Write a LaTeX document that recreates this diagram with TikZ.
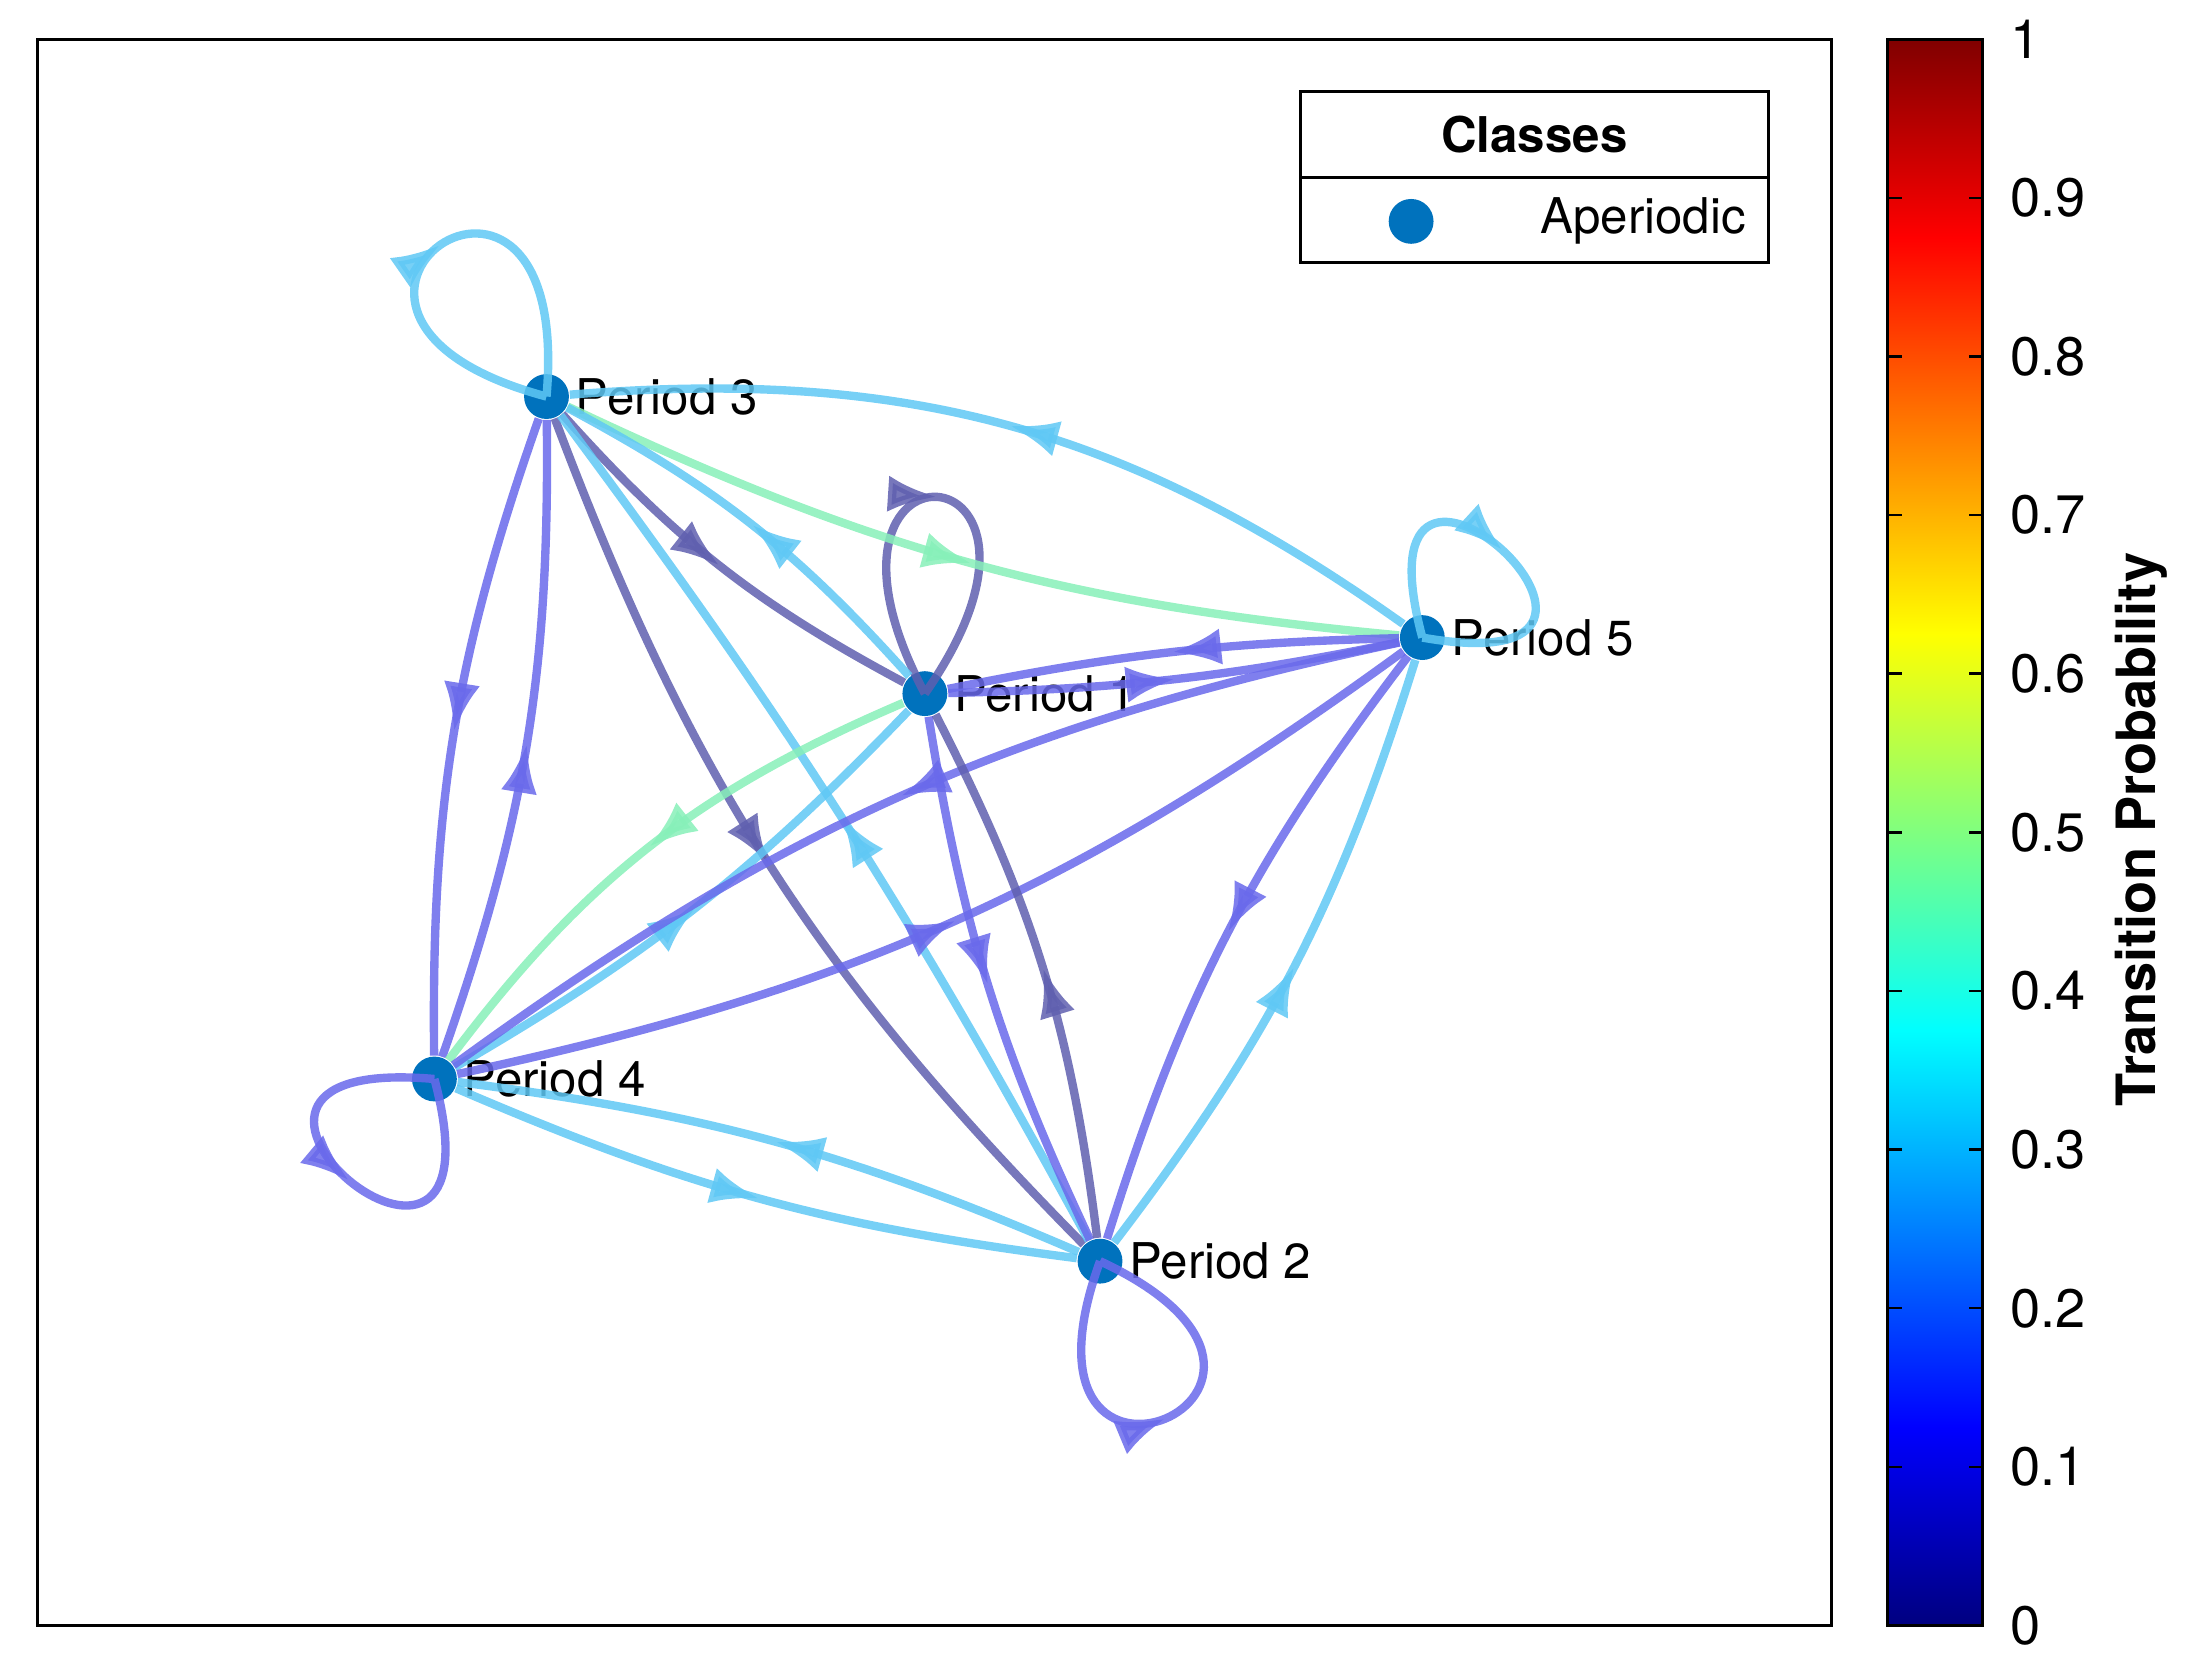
\documentclass[tikz,border=0pt]{standalone}
\usepackage{fontspec}
\setmainfont{TeX Gyre Heros}
\usetikzlibrary{decorations.markings,arrows.meta}

\definecolor{nodeblue}{RGB}{0,114,189}
\definecolor{clight}{RGB}{95,200,245}
\definecolor{cpurple}{RGB}{105,105,235}
\definecolor{cdark}{RGB}{95,95,175}
\definecolor{cgreen}{RGB}{135,240,185}
\definecolor{jdblue}{RGB}{0,0,128}
\definecolor{jdred}{RGB}{128,0,0}

\tikzset{
	state/.style={circle,fill=nodeblue,inner sep=0pt,minimum size=0.32cm},
	lbl/.style={font=\fontsize{10}{12}\selectfont,inner sep=1pt},
	trans/.style={line width=1.7pt,opacity=0.85,
		postaction={decorate},
		decoration={markings,mark=at position 0.5 with {\arrow{Latex[length=3.5mm,width=2.6mm]}}}},
}

\begin{document}
\begin{tikzpicture}
	\useasboundingbox (0,0) rectangle (15.6,11.92);
	
	% axes box
	\draw[line width=0.6pt] (0.27,0.32) rectangle (13.07,11.64);
	
	% states
	\node[state,label={[lbl]right:Period 3}] (p3) at (3.90,9.09) {};
	\node[state,label={[lbl]right:Period 1}] (p1) at (6.60,6.97) {};
	\node[state,label={[lbl]right:Period 5}] (p5) at (10.15,7.37) {};
	\node[state,label={[lbl]right:Period 4}] (p4) at (3.10,4.22) {};
	\node[state,label={[lbl]right:Period 2}] (p2) at (7.85,2.92) {};
	
	% self loops
	\draw[trans,clight] (p3.center) .. controls +(165:2.3) and +(85:2.3) .. (p3.center);
	\draw[trans,clight] (p5.center) .. controls +(105:2.1) and +(-10:2.1) .. (p5.center);
	\draw[trans,cdark] (p1.center) .. controls +(118:2.2) and +(55:2.2) .. (p1.center);
	\draw[trans,cpurple] (p4.center) .. controls +(175:2.2) and +(-75:2.2) .. (p4.center);
	\draw[trans,cpurple] (p2.center) .. controls +(-110:2.2) and +(-25:2.2) .. (p2.center);
	
	% transitions
	\draw[trans,clight] (p5) to[bend right=20] (p3);
	\draw[trans,cgreen] (p3) to[bend right=10] (p5);
	\draw[trans,cdark] (p3) to[bend right=10] (p1);
	\draw[trans,clight] (p1) to[bend right=10] (p3);
	\draw[trans,cpurple] (p3) to[bend right=10] (p4);
	\draw[trans,cpurple] (p4) to[bend right=10] (p3);
	\draw[trans,cdark] (p3) to[bend right=12] (p2);
	\draw[trans,clight] (p2) to[bend right=4] (p3);
	\draw[trans,cpurple] (p1) to[bend right=5] (p5);
	\draw[trans,cpurple] (p5) to[bend right=5] (p1);
	\draw[trans,cgreen] (p1) to[bend right=15] (p4);
	\draw[trans,clight] (p4) to[bend right=8] (p1);
	\draw[trans,cpurple] (p5) to[bend right=12] (p4);
	\draw[trans,cpurple] (p4) to[bend right=12] (p5);
	\draw[trans,cpurple] (p1) to[bend right=8] (p2);
	\draw[trans,cdark] (p2) to[bend right=10] (p1);
	\draw[trans,cpurple] (p5) to[bend right=10] (p2);
	\draw[trans,clight] (p2) to[bend right=10] (p5);
	\draw[trans,clight] (p4) to[bend right=8] (p2);
	\draw[trans,clight] (p2) to[bend right=8] (p4);
	
	% legend
	\draw[fill=white,line width=0.6pt] (9.28,10.05) rectangle (12.62,11.27);
	\draw[line width=0.6pt] (9.28,10.65) -- (12.62,10.65);
	\node[font=\bfseries\fontsize{10}{12}\selectfont] (legtitle) at (10.95,10.96) {Classes};
	\node[state] (legmark) at (10.07,10.34) {};
	\node[lbl,anchor=east] (legtext) at (12.50,10.34) {Aperiodic};
	
	% colorbar
	\shade[bottom color=jdblue,top color=blue] (13.47,0.32) rectangle (14.15,1.735);
	\shade[bottom color=blue,top color=cyan] (13.47,1.735) rectangle (14.15,4.565);
	\shade[bottom color=cyan,top color=yellow] (13.47,4.565) rectangle (14.15,7.395);
	\shade[bottom color=yellow,top color=red] (13.47,7.395) rectangle (14.15,10.225);
	\shade[bottom color=red,top color=jdred] (13.47,10.225) rectangle (14.15,11.64);
	\draw[line width=0.6pt] (13.47,0.32) rectangle (14.15,11.64);
	\foreach \v in {0,1,...,10} {
		\pgfmathsetmacro{\yy}{0.32+\v*1.132}
		\draw[line width=0.5pt] (14.15,\yy) -- (14.05,\yy);
		\draw[line width=0.5pt] (13.47,\yy) -- (13.57,\yy);
	}
	\foreach \v/\t in {0/0,1/0.1,2/0.2,3/0.3,4/0.4,5/0.5,6/0.6,7/0.7,8/0.8,9/0.9,10/1}
		\node[font=\fontsize{11}{13}\selectfont,anchor=west] (tick\v) at (14.22,0.32+\v*1.132) {\t};
	\node[font=\bfseries\fontsize{11}{13}\selectfont,rotate=90] (cblabel) at (15.28,6.0) {Transition Probability};
\end{tikzpicture}
\end{document}
